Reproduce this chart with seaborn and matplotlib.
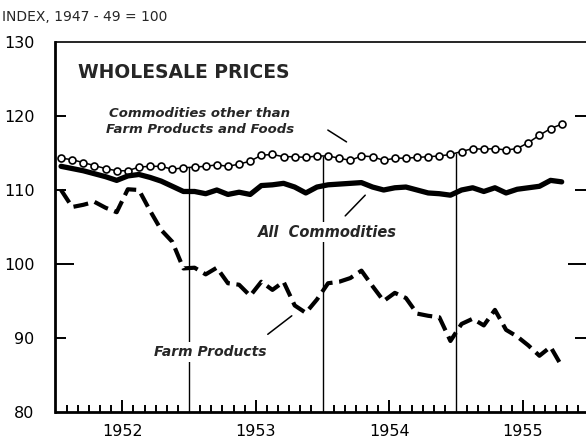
import numpy as np
import pandas as pd
import matplotlib.pyplot as plt
import seaborn as sns

# monthly index values, Jan 1952 - Oct 1955 (1947-49 = 100)
other = [114.3, 114.1, 113.7, 113.3, 112.9, 112.6, 112.6, 113.1, 113.2, 113.2, 112.8, 113.0,
         113.1, 113.2, 113.4, 113.2, 113.5, 113.9, 114.7, 114.8, 114.5, 114.5, 114.4, 114.6,
         114.6, 114.3, 114.0, 114.6, 114.5, 114.0, 114.3, 114.3, 114.4, 114.5, 114.6, 114.8,
         115.2, 115.6, 115.5, 115.6, 115.4, 115.6, 116.4, 117.4, 118.3, 118.9]
all_comm = [113.2, 112.9, 112.6, 112.2, 111.8, 111.3, 111.9, 112.1, 111.7, 111.2, 110.5, 109.8,
            109.8, 109.5, 110.0, 109.4, 109.7, 109.4, 110.6, 110.7, 110.9, 110.4, 109.6, 110.4,
            110.7, 110.8, 110.9, 111.0, 110.4, 110.0, 110.3, 110.4, 110.0, 109.6, 109.5, 109.3,
            110.0, 110.3, 109.8, 110.3, 109.6, 110.1, 110.3, 110.5, 111.3, 111.1]
farm = [110.0, 107.7, 108.0, 108.4, 107.6, 107.0, 110.1, 110.0, 107.2, 104.6, 103.0, 99.4,
        99.5, 98.6, 99.5, 97.4, 97.2, 95.7, 97.6, 96.5, 97.6, 94.4, 93.4, 95.2,
        97.4, 97.6, 98.1, 99.1, 97.0, 95.0, 96.1, 95.4, 93.3, 93.0, 92.8, 89.6,
        91.9, 92.6, 91.7, 93.8, 91.1, 90.2, 89.0, 87.6, 88.8, 86.2]
years = [1952, 1953, 1954, 1955]
y_ticks = [80, 90, 100, 110, 120, 130]
inner_ticks = [90, 110, 120]

n = len(all_comm)
date = [1952 + (i + 0.5) / 12 for i in range(n)]
df = pd.DataFrame({'date': date, 'other': other, 'all': all_comm, 'farm': farm})

sns.set_style('ticks')
plt.rcParams['font.family'] = ['DejaVu Sans']

fig = plt.figure(figsize=(5.86, 4.46), dpi=100)
ax = fig.add_axes([55.5 / 586, 34 / 446, 534 / 586, 370 / 446])

# year divider lines, up to the top series
for yr in years[1:]:
    ax.vlines(yr, 80, np.interp(yr, date, other), color='black', lw=1.0, zorder=1)

sns.lineplot(data=df, x='date', y='other', ax=ax, color='black', lw=1.1,
             marker='o', markersize=5, markerfacecolor='white',
             markeredgecolor='black', markeredgewidth=1.2, zorder=3)
sns.lineplot(data=df, x='date', y='all', ax=ax, color='black', lw=3.8, zorder=3,
             solid_capstyle='round', solid_joinstyle='round')
sns.lineplot(data=df, x='date', y='farm', ax=ax, color='black', lw=3.0, zorder=3,
             linestyle=(0, (3.6, 1.6)))

ax.set_xlim(1952, 1956)
ax.set_ylim(80, 130)
ax.set_xlabel('')
ax.set_ylabel('')

# axes frame
for side in ['left', 'bottom']:
    ax.spines[side].set_linewidth(2.0)
ax.spines['top'].set_linewidth(1.2)
ax.spines['right'].set_linewidth(1.2)
for s in ax.spines.values():
    s.set_color('black')

# x ticks: year labels under the mid-year tick, months as minor ticks
ax.set_xticks([y + 0.5 for y in years])
ax.set_xticklabels([str(y) for y in years], fontsize=11.5)
ax.set_xticks([y + m / 12 for y in years for m in range(1, 12) if m != 6], minor=True)
ax.tick_params(axis='x', which='major', direction='in', length=9, width=1.4, pad=9, colors='black')
ax.tick_params(axis='x', which='minor', direction='in', length=5, width=1.4, colors='black')
ax.tick_params(axis='x', which='both', bottom=True, top=False)

# y labels; the inward marks on both sides are drawn as short rules
ax.set_yticks(y_ticks)
ax.set_yticklabels([str(v) for v in y_ticks], fontsize=11.5)
ax.tick_params(axis='y', which='both', length=0, pad=15, colors='black')
ytr = ax.get_yaxis_transform()
ax.hlines(inner_ticks, 0, 0.02, transform=ytr, color='black', lw=1.4, clip_on=False)
ax.hlines(inner_ticks, 0.973, 1, transform=ytr, color='black', lw=1.4, clip_on=False)
ax.hlines([100], 0, 0.035, transform=ytr, color='black', lw=1.4, clip_on=False)
ax.hlines([100], 0.96, 1, transform=ytr, color='black', lw=1.4, clip_on=False)

# titles and labels
fig.text(2 / 586, 1 - 17 / 446, 'INDEX, 1947 - 49 = 100', fontsize=10, va='center', ha='left')
ax.text(1952.17, 125.9, 'WHOLESALE PRICES', fontsize=13.5, fontweight='bold', va='center', ha='left')

ax.text(1953.08, 119.3, 'Commodities other than\nFarm Products and Foods', fontsize=9.5,
        style='italic', fontweight='bold', ha='center', va='center', linespacing=1.3)
ax.plot([1954.04, 1954.18], [118.1, 116.5], color='black', lw=1.1)

ax.text(1954.04, 104.3, 'All  Commodities', fontsize=10.5, style='italic', fontweight='bold',
        ha='center', va='center',
        bbox=dict(facecolor='white', edgecolor='none', pad=2), zorder=4)
ax.plot([1954.17, 1954.32], [106.5, 109.3], color='black', lw=1.1)

ax.text(1953.16, 88.1, 'Farm Products', fontsize=10, style='italic', fontweight='bold',
        ha='center', va='center',
        bbox=dict(facecolor='white', edgecolor='none', pad=2), zorder=4)
ax.plot([1953.59, 1953.77], [90.5, 93.0], color='black', lw=1.1)

fig.savefig('out.png', dpi=100)
